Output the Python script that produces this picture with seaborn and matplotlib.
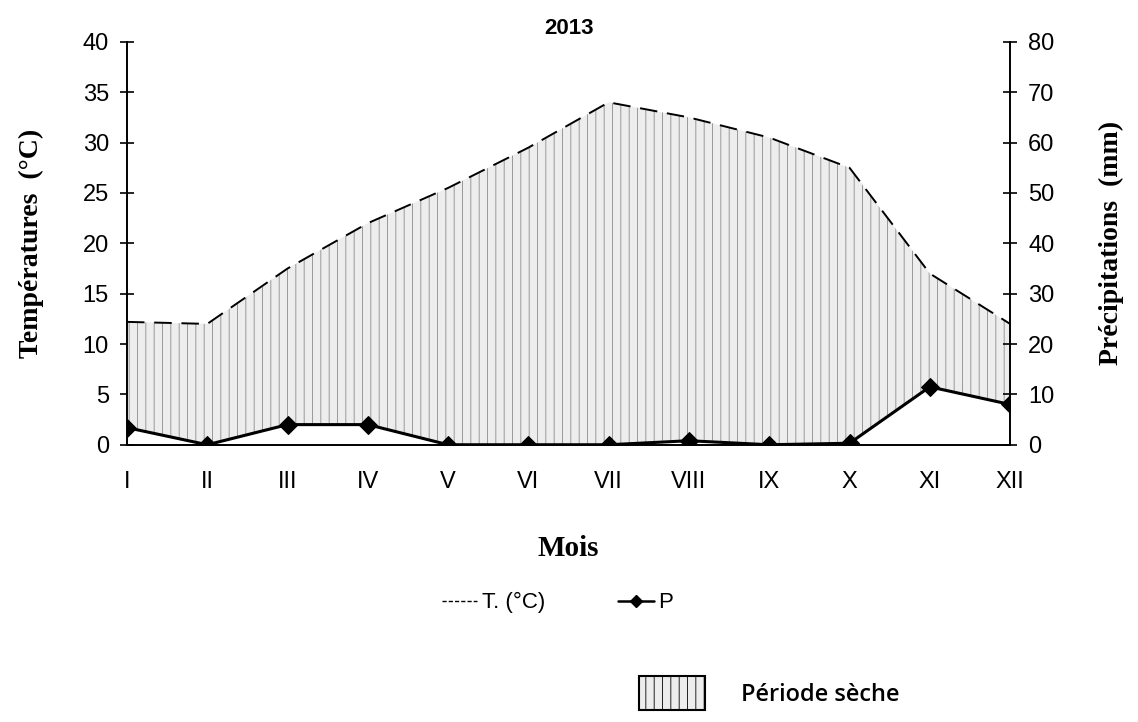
import numpy as np
import pandas as pd
import matplotlib
matplotlib.use("Agg")
import matplotlib.pyplot as plt
import seaborn as sns
from matplotlib.patches import Patch
from matplotlib.lines import Line2D

# monthly data (2013)
months = ["I", "II", "III", "IV", "V", "VI", "VII", "VIII", "IX", "X", "XI", "XII"]
temp_c = [12.2, 12.0, 17.5, 22.0, 25.5, 29.5, 34.0, 32.5, 30.5, 27.5, 17.0, 12.0]
precip_mm = [3.4, 0.0, 4.0, 4.0, 0.0, 0.0, 0.0, 0.8, 0.0, 0.3, 11.5, 8.0]

df = pd.DataFrame({"month": np.arange(1, 13), "T": temp_c, "P": precip_mm})
df["P_half"] = df["P"] / 2  # P = 2T scale on the left axis

sns.set_theme(style="white")
plt.rcParams["font.family"] = ["Liberation Sans", "DejaVu Sans"]
plt.rcParams["hatch.linewidth"] = 0.6
plt.rcParams["text.color"] = "black"
plt.rcParams["axes.labelcolor"] = "black"

fig = plt.figure(figsize=(11.38, 7.22), dpi=100)
ax = fig.add_axes([0.1116, 0.384, 0.776, 0.558])
ax2 = ax.twinx()

# dry period (T above P/2)
ax.fill_between(df["month"], df["P_half"], df["T"], where=df["T"] >= df["P_half"],
                facecolor="#ededed", edgecolor="#8a8a8a", hatch="||", linewidth=0, zorder=1)

sns.lineplot(data=df, x="month", y="T", ax=ax, color="black", linewidth=1.4,
             dashes=False, zorder=3)
ax.lines[-1].set_dashes([9, 5])
sns.lineplot(data=df, x="month", y="P", ax=ax2, color="black", linewidth=2.2,
             marker="D", markersize=9, markeredgecolor="black", zorder=4)

ax.set_xlim(1, 12)
ax.set_ylim(0, 40)
ax2.set_ylim(0, 80)
ax.set_xticks(df["month"])
ax.set_xticklabels(months)
ax.set_yticks(range(0, 41, 5))
ax2.set_yticks(range(0, 81, 10))

for a in (ax, ax2):
    for s in a.spines.values():
        s.set_visible(False)
    a.tick_params(labelsize=17, direction="inout", length=10, width=1.2, color="black",
                  labelcolor="black")
ax.spines["left"].set_visible(True)
ax.spines["bottom"].set_visible(True)
ax2.spines["right"].set_visible(True)
for s in (ax.spines["left"], ax.spines["bottom"], ax2.spines["right"]):
    s.set_color("black")
    s.set_linewidth(1.4)
ax.tick_params(axis="x", pad=14, labelsize=17)
ax.tick_params(axis="y", pad=8, left=True)
ax2.tick_params(axis="y", pad=8, right=True)
ax.grid(False)
ax2.grid(False)

serif = ["Liberation Serif", "DejaVu Serif"]
ax.set_title("2013", fontsize=16, fontweight="bold", pad=6, color="black")
ax.set_xlabel("Mois", fontsize=21, fontweight="bold", family=serif, labelpad=30)
ax.set_ylabel("Températures  (°C)", fontsize=20, fontweight="bold", family=serif, labelpad=28)
ax2.set_ylabel("Précipitations  (mm)", fontsize=20, fontweight="bold", family=serif, labelpad=32)

handles = [Line2D([], [], color="black", linewidth=1, dashes=[3, 1.5]),
           Line2D([], [], color="black", linewidth=1.8, marker="D", markersize=6)]
fig.legend(handles, ["T. (°C)", "P"], loc="center", bbox_to_anchor=(0.49, 0.165), ncol=2,
           frameon=False, fontsize=16, handlelength=1.6, handletextpad=0.2, columnspacing=3.3,
           labelcolor="black")

fig.legend([Patch(facecolor="#ededed", edgecolor="black", hatch="||", linewidth=1.5)],
           ["Période sèche"], loc="center", bbox_to_anchor=(0.676, 0.04), frameon=False,
           handlelength=2.8, handleheight=1.8, handletextpad=1.5, labelcolor="black",
           prop={"family": ["Open Sans", "DejaVu Sans"], "size": 17, "weight": "semibold"})

fig.savefig("out.png", dpi=100)
